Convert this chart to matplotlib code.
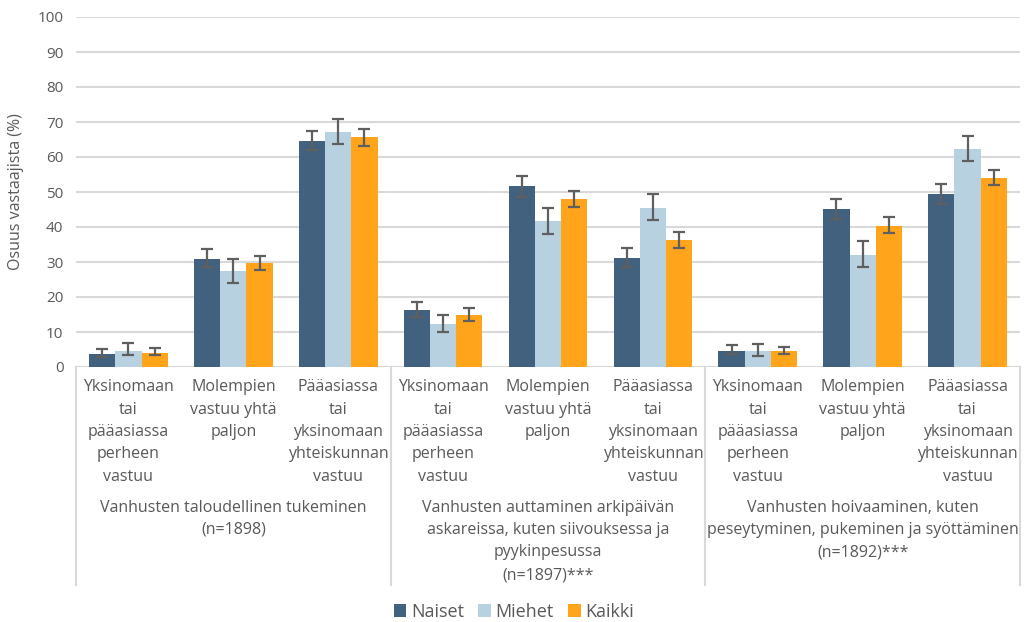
import numpy as np
import matplotlib.pyplot as plt

plt.rcParams['font.family'] = ['Open Sans', 'DejaVu Sans']

categories = ["Yksinomaan\ntai\npääasiassa\nperheen\nvastuu",
              "Molempien\nvastuu yhtä\npaljon",
              "Pääasiassa\ntai\nyksinomaan\nyhteiskunnan\nvastuu"] * 3
groups = ["Vanhusten taloudellinen tukeminen\n(n=1898)",
          "Vanhusten auttaminen arkipäivän\naskareissa, kuten siivouksessa ja\npyykinpesussa\n(n=1897)***",
          "Vanhusten hoivaaminen, kuten\npeseytyminen, pukeminen ja syöttäminen\n(n=1892)***"]
series = ["Naiset", "Miehet", "Kaikki"]

naiset = [3.7, 31.0, 64.6, 16.3, 51.7, 31.2, 4.6, 45.1, 49.3]
naiset_lo = [2.8, 28.5, 62.1, 14.4, 48.6, 28.7, 3.7, 42.3, 46.6]
naiset_hi = [5.1, 33.6, 67.3, 18.6, 54.7, 33.9, 6.3, 48.0, 52.4]

miehet = [4.7, 27.5, 67.1, 12.3, 41.6, 45.3, 4.6, 32.1, 62.4]
miehet_lo = [3.4, 24.1, 63.6, 10.0, 38.0, 41.9, 3.1, 28.7, 59.0]
miehet_hi = [6.9, 30.9, 71.0, 15.0, 45.4, 49.3, 6.6, 36.0, 66.1]

kaikki = [4.0, 29.7, 65.6, 14.8, 48.1, 36.2, 4.6, 40.4, 54.0]
kaikki_lo = [3.4, 27.7, 63.2, 13.2, 45.7, 34.1, 3.8, 38.3, 52.1]
kaikki_hi = [5.4, 31.8, 68.0, 16.9, 50.4, 38.5, 5.8, 42.8, 56.3]

colors = ["#41617f", "#b8d1e1", "#ffa41b"]
txt = "#595959"

fig = plt.figure(figsize=(10.27, 6.22), dpi=100)
ax = fig.add_axes([76 / 1027, 1 - 367 / 622, 944 / 1027, 350 / 622])

x = np.arange(len(categories))
w = 0.25
data = [(naiset, naiset_lo, naiset_hi), (miehet, miehet_lo, miehet_hi), (kaikki, kaikki_lo, kaikki_hi)]
for i, (vals, lo, hi) in enumerate(data):
    vals = np.array(vals)
    err = [vals - np.array(lo), np.array(hi) - vals]
    ax.bar(x + (i - 1) * w, vals, w, color=colors[i], label=series[i], zorder=2)
    ax.errorbar(x + (i - 1) * w, vals, yerr=err, fmt='none', ecolor="#5f5f5f",
                elinewidth=1.6, capsize=4, capthick=1.6, zorder=3)

ax.set_xlim(-0.5, 8.5)
ax.set_ylim(0, 100)
ax.set_yticks(range(0, 101, 10))
ax.tick_params(axis='y', length=0, labelsize=11, labelcolor=txt, pad=9)
ax.set_xticks([])
ax.grid(axis='y', color="#d9d9d9", linewidth=1.5, zorder=0)
ax.set_axisbelow(True)
for s in ax.spines.values():
    s.set_visible(False)
ax.axhline(0, color="#d9d9d9", linewidth=1.5, zorder=1)
ax.set_ylabel("Osuus vastaajista (%)", fontsize=11.5, color=txt, labelpad=10)

# labels under the axis, placed in pixel units
trans = ax.get_xaxis_transform()
px = 1 / 350
for i, lab in enumerate(categories):
    for j, line in enumerate(lab.split("\n")):
        ax.text(i, -(387 - 367 + j * 22.5) * px, line, transform=trans, ha='center', va='center',
                fontsize=11.5, color=txt)
for g, lab in enumerate(groups):
    for j, line in enumerate(lab.split("\n")):
        ax.text(3 * g + 1, -(507.5 - 367 + j * 22.5) * px, line, transform=trans, ha='center',
                va='center', fontsize=11.5, color=txt)
for b in [-0.5, 2.5, 5.5, 8.5]:
    ax.plot([b, b], [0, -(585 - 367) * px], transform=trans, color="#d9d9d9",
            linewidth=1.5, clip_on=False)

fig.legend(loc='center', bbox_to_anchor=(514 / 1027, 1 - 612 / 622), ncol=3, frameon=False,
           fontsize=13, handlelength=0.7, handleheight=0.7, handletextpad=0.25,
           columnspacing=0.8, labelcolor=txt)

fig.savefig("out.png", dpi=100)
